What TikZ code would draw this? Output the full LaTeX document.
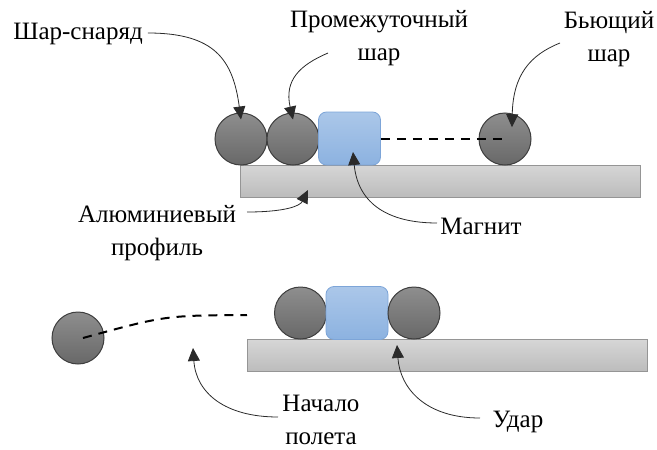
\documentclass[tikz,border=0pt]{standalone}
\usepackage{fontspec}
\setmainfont{Liberation Serif}
\newfontfamily\captionserif{Liberation Serif}
\usetikzlibrary{arrows.meta}

\definecolor{ballTop}{HTML}{8E8E8E}
\definecolor{ballBot}{HTML}{686868}
\definecolor{ballEdge}{HTML}{3E3E3E}
\definecolor{magTop}{HTML}{ABC7E9}
\definecolor{magBot}{HTML}{8CB2E0}
\definecolor{magEdge}{HTML}{7DA5D8}
\definecolor{railTop}{HTML}{D6D6D6}
\definecolor{railBot}{HTML}{BCBCBC}
\definecolor{railEdge}{HTML}{959595}
\definecolor{leader}{HTML}{2A2A2A}

\tikzset{
  ball/.style={circle, minimum size=52pt, inner sep=0pt, draw=ballEdge, line width=1pt,
    top color=ballTop, bottom color=ballBot},
  magnet/.style={rectangle, rounded corners=8pt, minimum width=62pt, minimum height=53pt,
    inner sep=0pt, draw=magEdge, line width=0.8pt, top color=magTop, bottom color=magBot},
  rail/.style={rectangle, minimum width=400pt, minimum height=32pt, inner sep=0pt,
    draw=railEdge, line width=0.8pt, top color=railTop, bottom color=railBot},
  label/.style={inner sep=0pt, align=center, font=\captionserif\fontsize{25}{33}\selectfont, anchor=base},
  pointer/.style={draw=leader, line width=0.8pt, -{Triangle[length=13pt,width=12pt]}},
  track/.style={black, line width=2pt, dash pattern=on 9pt off 7pt},
}

\begin{document}
\begin{tikzpicture}[x=1pt, y=-1pt]
\useasboundingbox (0,0) rectangle (657,450);

% --- upper assembly: balls at rest on the rail ---
\node[rail]   (railA)  at (440,181) {};
\node[ball]   (shell)  at (241,139) {};
\node[ball]   (mid)    at (293,139) {};
\node[magnet] (magA)   at (349.5,138.5) {};
\node[ball]   (hammer) at (505,139) {};
\draw[track] (magA.east |- hammer.center) -- (hammer.center);

% --- lower assembly: after the impact ---
\node[rail]   (railB)  at (447.5,355.5) {};
\node[ball]   (left)   at (300.5,313) {};
\node[magnet] (magB)   at (357,313) {};
\node[ball]   (right)  at (414,313) {};
\node[ball]   (fly)    at (78,338) {};
\coordinate (flyEnd) at (247,315);
\draw[track] ([xshift=5pt]fly.center) .. controls (165,315.5) .. (flyEnd);

% --- labels (base = baseline of the last line) ---
\node[label] (tShell)  at (78,39)   {Шар-снаряд};
\node[label] (tMid)    at (379,60)  {Промежуточный\\шар};
\node[label] (tHammer) at (609,61)  {Бьющий\\шар};
\node[label] (tRail)   at (157,255) {Алюминиевый\\профиль};
\node[label] (tMag)    at (481,234) {Магнит};
\node[label] (tFly)    at (321,444) {Начало\\полета};
\node[label] (tHit)    at (518,427) {Удар};

% --- leader arrows ---
\draw[pointer] (tShell.east |- 0,33) ++(5,0) coordinate (s1)
  .. controls (215,33) and (233,60) .. ([yshift=-7pt]shell.north);
\draw[pointer] (328,53) coordinate (s2)
  .. controls (300,65) and (284,80) .. ([yshift=-7pt]mid.north);
\draw[pointer] (560,43) coordinate (s3)
  .. controls (530,55) and (513,75) .. ([yshift=-7pt]hammer.north west -| 512,0);
\draw[pointer] (437,223) coordinate (s4)
  .. controls (390,223) and (358,205) .. (353,152);
\draw[pointer] (247,212) coordinate (s5)
  .. controls (285,212) and (300,206) .. (308,190);
\draw[pointer] (278,417) coordinate (s6)
  .. controls (225,417) and (196,393) .. (193,348);
\draw[pointer] (480,418) coordinate (s7)
  .. controls (425,418) and (400,388) .. (397,345);
\end{tikzpicture}
\end{document}
